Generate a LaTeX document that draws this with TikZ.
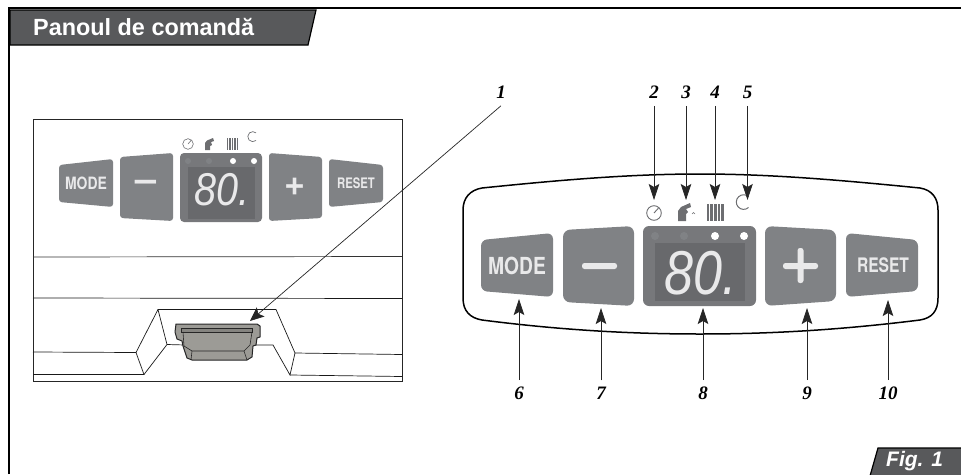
\documentclass[tikz,border=0pt]{standalone}
\usepackage{fontspec}
\setmainfont{Liberation Sans}
\newfontfamily\lserif{Liberation Serif}
\newfontfamily\lheros{TeX Gyre Heros}
\usetikzlibrary{arrows.meta}
\definecolor{btn}{HTML}{808285}
\definecolor{disp}{HTML}{77787B}
\definecolor{dispin}{HTML}{68696C}
\definecolor{ico}{HTML}{6D6E71}
\definecolor{tabc}{HTML}{58595B}
\definecolor{latch}{HTML}{9C9B96}
\definecolor{btxt}{HTML}{E9E9EA}
\tikzset{
  arr/.style={draw=black!85,line width=0.7pt,-{Stealth[length=16pt,width=10.5pt,inset=3pt]}},
  arrs/.style={draw=black!85,line width=0.6pt,-{Stealth[length=14pt,width=12pt,inset=3pt]}},
  lbl/.style={font=\lserif\bfseries\itshape\fontsize{19}{19}\selectfont,inner sep=0pt,outer ysep=7pt},
  outl/.style={draw=black!90,line width=0.9pt},
  btnshape/.style={fill=btn,rounded corners=4pt},
  btxtA/.style={text=btxt,inner sep=0pt,font=\lheros\bfseries},
}
\begin{document}
\begin{tikzpicture}[x=1pt,y=-1pt]
\useasboundingbox (0,0) rectangle (961,474);
% frame
\draw[black,line width=2pt] (9,474) -- (9,8) -- (961,8);
\fill[tabc,draw=black,line width=1.2pt] (10,10) -- (316,10) -- (308,45) -- (10,45) -- cycle;
\node[anchor=west,text=white,inner sep=0pt,font=\bfseries\fontsize{23.4}{24}\selectfont] (title) at (33,27.5) {Panoul de comandă};
\fill[tabc,draw=black,line width=1.2pt] (870,476) -- (878,448) -- (963,448) -- (963,476) -- cycle;
\node[anchor=west,text=white,inner sep=0pt,font=\bfseries\itshape\fontsize{21}{22}\selectfont] (figl) at (886,461.5) {Fig. 1};
% left box
\draw[line width=1pt,draw=black!85] (33,119) rectangle (402,381);
\draw[line width=.7pt,draw=black!80] (33,257) -- (402,256.5);
\draw[line width=.7pt,draw=black!90] (33,298) -- (402,298.5);
\draw[outl,line width=.7pt] (33,352) -- (136,352.5) -- (158,309.5) -- (276,309.5) -- (295,353) -- (402,354.5);
\draw[outl,line width=.7pt] (33,374.5) -- (144,374.5) -- (136,352.5);
\draw[outl,line width=.7pt] (144,374.5) -- (167,344.5) -- (158,309.5);
\draw[outl,line width=.7pt] (167,344.5) -- (185,345);
\draw[outl,line width=.7pt] (295,353) -- (290,375) -- (273,345) -- (255,345);
\draw[outl,line width=.7pt] (290,375) -- (402,376.5);
% latch
\draw[fill=latch,draw=black!85,line width=1pt,line join=round] (176,324) -- (257,324) -- (260,326) -- (260,337) -- (257,338) -- (256,345) -- (253,346) -- (252,357) -- (247,360) -- (192,360) -- (187,358) -- (183,346) -- (182,341) -- (177,339) -- (175,332) -- cycle;
\draw[draw=black!85,line width=.7pt,fill=latch!85!black] (181,328) rectangle (252,332);
\draw[draw=black!85,line width=.6pt] (183,332) -- (184,346) -- (192,351) -- (244,351) -- (250,345) -- (252,332);
\draw[draw=black!85,line width=.6pt] (192,351) -- (191,360);
\draw[draw=black!85,line width=.6pt] (244,351) -- (247,360);
% left buttons
\fill[btnshape,rounded corners=3pt] (59,165) -- (113,159) -- (113,207) -- (59,202) -- cycle;
\node[btxtA,font=\lheros\bfseries\fontsize{17}{17}\selectfont,xscale=.82] (smode) at (86,183.5) {MODE};
\fill[btnshape,rounded corners=3pt] (120,157) -- (173,153) -- (173,221) -- (120,218) -- cycle;
\node[btxtA,font=\lheros\bfseries\fontsize{36}{36}\selectfont,xscale=1.05] (sminus) at (146.5,186) {–};
\fill[disp,rounded corners=4pt] (180,153) rectangle (262,222);
\fill[dispin] (188,167) rectangle (255,219);
\foreach \x/\c in {188/btn,209/btn,233/white,254/white} \fill[\c] (\x,161) circle (3);
\node[text=btxt,inner sep=0pt,font=\itshape\fontsize{46}{46}\selectfont,xscale=.86] (sdisp) at (222,189.5) {80.};
\fill[btnshape,rounded corners=3pt] (269,153) -- (322,157) -- (322,218) -- (269,221) -- cycle;
\node[btxtA,font=\lheros\bfseries\fontsize{36}{36}\selectfont] (splus) at (295.5,187) {+};
\fill[btnshape,rounded corners=3pt] (329,159) -- (383,165) -- (383,202) -- (329,207) -- cycle;
\node[btxtA,font=\lheros\bfseries\fontsize{14.5}{15}\selectfont,xscale=.78] (sreset) at (356,183.5) {RESET};
% left icons
\draw[ico,line width=.6pt] (188,144) circle (5.3) (188,144) -- (191,140.5);
\fill[ico] (205,150) -- (205,143) -- (207,140.5) -- (213,138) -- (214,141) -- (211,142) -- (212,145) -- (210,146) -- (210,150) -- cycle;
\foreach \x in {226.5,229,231.5,234,236.5} \fill[ico] (\x,138) rectangle +(1.7,12);
\draw[ico,line width=.7pt] (256,140.5) arc (50:310:5);
% main panel
\draw[draw=black,line width=1.5pt,line join=round] (482,188)
  .. controls (560,180) and (630,174) .. (700,174)
  .. controls (770,174) and (840,180) .. (920,188)
  .. controls (932,190) and (938,198) .. (938,210)
  -- (938,298)
  .. controls (938,311) and (932,318) .. (920,320)
  .. controls (840,330) and (770,334) .. (700,334)
  .. controls (630,334) and (560,330) .. (482,320)
  .. controls (470,318) and (463,311) .. (463,298)
  -- (463,210)
  .. controls (463,198) and (470,190) .. (482,188) -- cycle;
% big buttons
\fill[btnshape,rounded corners=6pt] (481,240) -- (553,233) -- (553,297) -- (481,291) -- cycle;
\node[btxtA,font=\lheros\bfseries\fontsize{23.5}{24}\selectfont,xscale=.82] (bmode) at (517,265.5) {MODE};
\fill[btnshape,rounded corners=7pt] (563,230) -- (634,226) -- (634,306) -- (563,302) -- cycle;
\fill[btxt,rounded corners=2.5pt] (582,263) rectangle (617,269);
\coordinate (bminus) at (599.5,266);
\fill[disp,rounded corners=6pt] (643,226) rectangle (756,306);
\fill[dispin] (655,243) rectangle (745,301);
\foreach \x/\c in {655/btn,684/btn,715/white,744/white} \fill[\c] (\x,236) circle (4);
\node[text=btxt,inner sep=0pt,font=\itshape\fontsize{62}{62}\selectfont,xscale=.84] (bdisp) at (701,273.5) {80.};
\fill[btnshape,rounded corners=7pt] (765,226) -- (836,230) -- (836,301) -- (765,306) -- cycle;
\fill[btxt,rounded corners=2.5pt] (783,263) rectangle (818,269) (797.5,248) rectangle (803.5,283);
\coordinate (bplus) at (800.5,266);
\fill[btnshape,rounded corners=6pt] (846,233) -- (918,240) -- (918,291) -- (846,297) -- cycle;
\node[btxtA,font=\lheros\bfseries\fontsize{20}{20}\selectfont,xscale=.78] (breset) at (883,265.5) {RESET};
% big icons
\draw[ico,line width=.9pt] (654,213) circle (7.3) (654,213) -- (659,207.5);
\fill[ico] (678,221) -- (678,211) -- (681,207) -- (690,203) -- (691,207) -- (686,209) -- (688,212) -- (686,214) -- (686,221) -- cycle;
\draw[ico,line width=.4pt] (692,214) arc (180:360:1.5);
\foreach \x in {706.5,710.2,713.9,717.6,721.3} \fill[ico] (\x,203.5) rectangle +(2.7,17.5);
\draw[ico,line width=1pt] (748.5,207.5) arc (48:312:7.3);
% labels
\node[lbl] (l1) at (501,92.5) {1};
\node[lbl] (l2) at (654,92.5) {2};
\node[lbl] (l3) at (686,92.5) {3};
\node[lbl] (l4) at (715,92.5) {4};
\node[lbl] (l5) at (747.5,92.5) {5};
\node[lbl] (l6) at (519,393.5) {6};
\node[lbl] (l7) at (601,393.5) {7};
\node[lbl] (l8) at (703,393.5) {8};
\node[lbl] (l9) at (807,393.5) {9};
\node[lbl] (l10) at (888,393.5) {10};
% tips
\coordinate (t1) at (250,321);
\coordinate (t2) at (654,200);
\coordinate (t3) at (686,200);
\coordinate (t4) at (715,200);
\coordinate (t5) at (747.5,200);
\coordinate (t6) at (519,299);
\coordinate (t7) at (601,308);
\coordinate (t8) at (703,308);
\coordinate (t9) at (807,308);
\coordinate (t10) at (888,300);
\draw[arrs,line width=.7pt] (l1.south) -- (t1);
\foreach \n in {2,3,4,5} \draw[arr] (l\n.south) -- (t\n);
\foreach \n in {6,7,8,9,10} \draw[arr] (l\n.north) -- (t\n);
\end{tikzpicture}
\end{document}
